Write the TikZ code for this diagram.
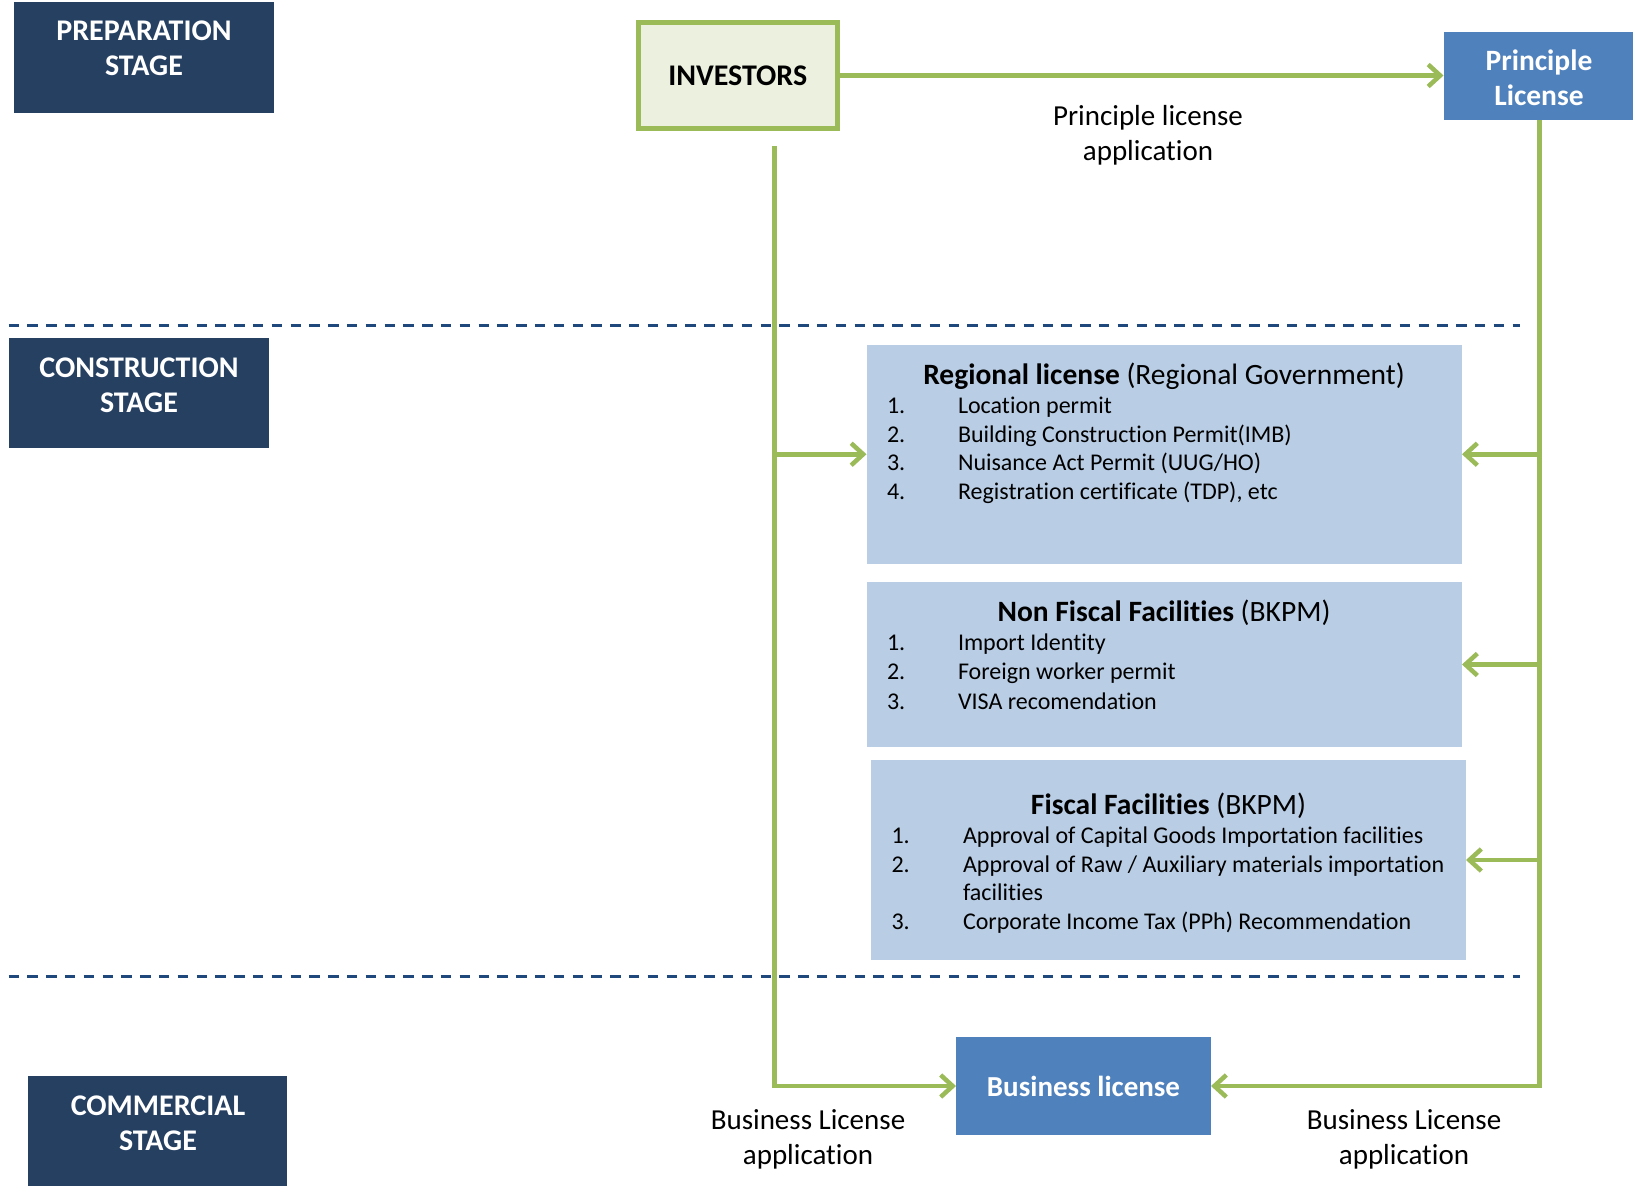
\documentclass[tikz,border=0pt]{standalone}
\usepackage{fontspec}
\setmainfont{Carlito}[Ligatures=NoCommon]
\usetikzlibrary{arrows.meta}
\definecolor{navy}{HTML}{264062}
\definecolor{lgreen}{HTML}{9BBB59}
\definecolor{invfill}{HTML}{EBF1DE}
\definecolor{midblue}{HTML}{4F81BD}
\definecolor{paleblue}{HTML}{B9CDE5}
\definecolor{dashnavy}{HTML}{1F497D}
\tikzset{
  every node/.style={outer sep=0pt},
  stagebox/.style={fill=navy, draw=none, inner sep=0pt, anchor=north west},
  stagetext/.style={text=white, font=\fontsize{30}{35}\selectfont\bfseries, align=center, inner sep=0pt},
  bluebox/.style={fill=midblue, draw=none, inner sep=0pt, anchor=north west, text=white, font=\fontsize{29}{35}\selectfont\bfseries, align=center},
  infobox/.style={fill=paleblue, draw=none, inner sep=0pt, anchor=north west},
  title/.style={font=\fontsize{29.5}{34}\selectfont, inner sep=0pt, anchor=center},
  itemtext/.style={font=\fontsize{24}{29}\selectfont, inner sep=0pt, anchor=base west},
  label/.style={font=\fontsize{29}{35}\selectfont, align=center, inner sep=0pt},
  conn/.style={draw=lgreen, line width=4.5pt, -{Straight Barb[length=12pt,width=22pt,line width=4.5pt]}},
  stageline/.style={draw=dashnavy, line width=3pt, dash pattern=on 10.5pt off 8.3pt},
}
\begin{document}
\begin{tikzpicture}[x=1pt,y=-1pt]
\useasboundingbox (0,0) rectangle (1633,1189);

% stage boxes
\node[stagebox, minimum width=260.5pt, minimum height=110.5pt] (prep) at (13.5,2) {};
\node[stagetext] (preptext) at (144,48) {PREPARATION\\STAGE};
\node[stagebox, minimum width=259.3pt, minimum height=110.5pt] (cons) at (9.4,337.5) {};
\node[stagetext] (constext) at (139,385) {CONSTRUCTION\\STAGE};
\node[stagebox, minimum width=259pt, minimum height=110pt] (comm) at (28,1076) {};
\node[stagetext] (commtext) at (158,1123) {COMMERCIAL\\STAGE};

% dashed stage separators
\coordinate (sepAl) at (8.5,325);
\coordinate (sepAr) at (1520,325);
\coordinate (sepBl) at (8.5,976);
\coordinate (sepBr) at (1520,976);
\draw[stageline] (sepAl) -- (sepAr);
\draw[stageline] (sepBl) -- (sepBr);

% investors
\node[draw=lgreen, line width=5pt, fill=invfill, anchor=north west, inner sep=0pt,
      minimum width=198.5pt, minimum height=106pt,
      font=\fontsize{30}{34}\selectfont\bfseries] (inv) at (638.5,22.5) {INVESTORS};

% principle license
\node[bluebox, minimum width=192pt, minimum height=88pt] (prin) at (1443.5,32) {};
\node[text=white, font=\fontsize{29.5}{35}\selectfont\bfseries, align=center, inner sep=0pt] (printext) at (1539,77.5) {Principle\\License};

% business license
\node[bluebox, minimum width=255pt, minimum height=98pt] (biz) at (956,1037) {Business license};

% info boxes
\node[infobox, minimum width=595.5pt, minimum height=218.5pt] (reg) at (866.5,345) {};
\node[title] (regtitle) at (1164,376) {\textbf{Regional license} (Regional Government)};
\node[itemtext] (r1n) at (887,413.5) {1.};
\node[itemtext] (r1) at (958,413.5) {Location permit};
\node[itemtext] (r2n) at (887,442) {2.};
\node[itemtext] (r2) at (958,442) {Building Construction Permit(IMB)};
\node[itemtext] (r3n) at (887,470.5) {3.};
\node[itemtext] (r3) at (958,470.5) {Nuisance Act Permit (UUG/HO)};
\node[itemtext] (r4n) at (887,499.5) {4.};
\node[itemtext] (r4) at (958,499.5) {Registration certificate (TDP), etc};

\node[infobox, minimum width=595.5pt, minimum height=165pt] (nonf) at (866.5,582) {};
\node[title] (nonftitle) at (1164,613) {\textbf{Non Fiscal Facilities} (BKPM)};
\node[itemtext] (n1n) at (887,650.5) {1.};
\node[itemtext] (n1) at (958,650.5) {Import Identity};
\node[itemtext] (n2n) at (887,679.5) {2.};
\node[itemtext] (n2) at (958,679.5) {Foreign worker permit};
\node[itemtext] (n3n) at (887,709) {3.};
\node[itemtext] (n3) at (958,709) {VISA recomendation};

\node[infobox, minimum width=595.3pt, minimum height=200pt] (fisc) at (870.7,760) {};
\node[title] (fisctitle) at (1168.5,805.5) {\textbf{Fiscal Facilities} (BKPM)};
\node[itemtext] (f1n) at (891.5,843) {1.};
\node[itemtext] (f1) at (963,843) {Approval of Capital Goods Importation facilities};
\node[itemtext] (f2n) at (891.5,872.5) {2.};
\node[itemtext] (f2) at (963,872.5) {Approval of Raw / Auxiliary materials importation};
\node[itemtext] (f2b) at (963,900.5) {facilities};
\node[itemtext] (f3n) at (891.5,929.5) {3.};
\node[itemtext] (f3) at (963,929.5) {Corporate Income Tax (PPh) Recommendation};

% connectors
\draw[conn] (inv.east) -- (inv.east -| prin.west);
\node[label] (plabel) at (1148,135) {Principle license\\application};

\coordinate (invfoot) at (774.5,146);
\draw[conn] (invfoot) |- (biz.west);
\draw[conn] (invfoot |- reg.west) -- (reg.west);

\draw[conn] (prin.south) |- (biz.east);
\draw[conn] (prin.south |- reg.east) -- (reg.east);
\draw[conn] (prin.south |- nonf.east) -- (nonf.east);
\draw[conn] (prin.south |- fisc.east) -- (fisc.east);

\node[label] (bl1) at (808,1139) {Business License\\application};
\node[label] (bl2) at (1404,1139) {Business License\\application};
\end{tikzpicture}
\end{document}
